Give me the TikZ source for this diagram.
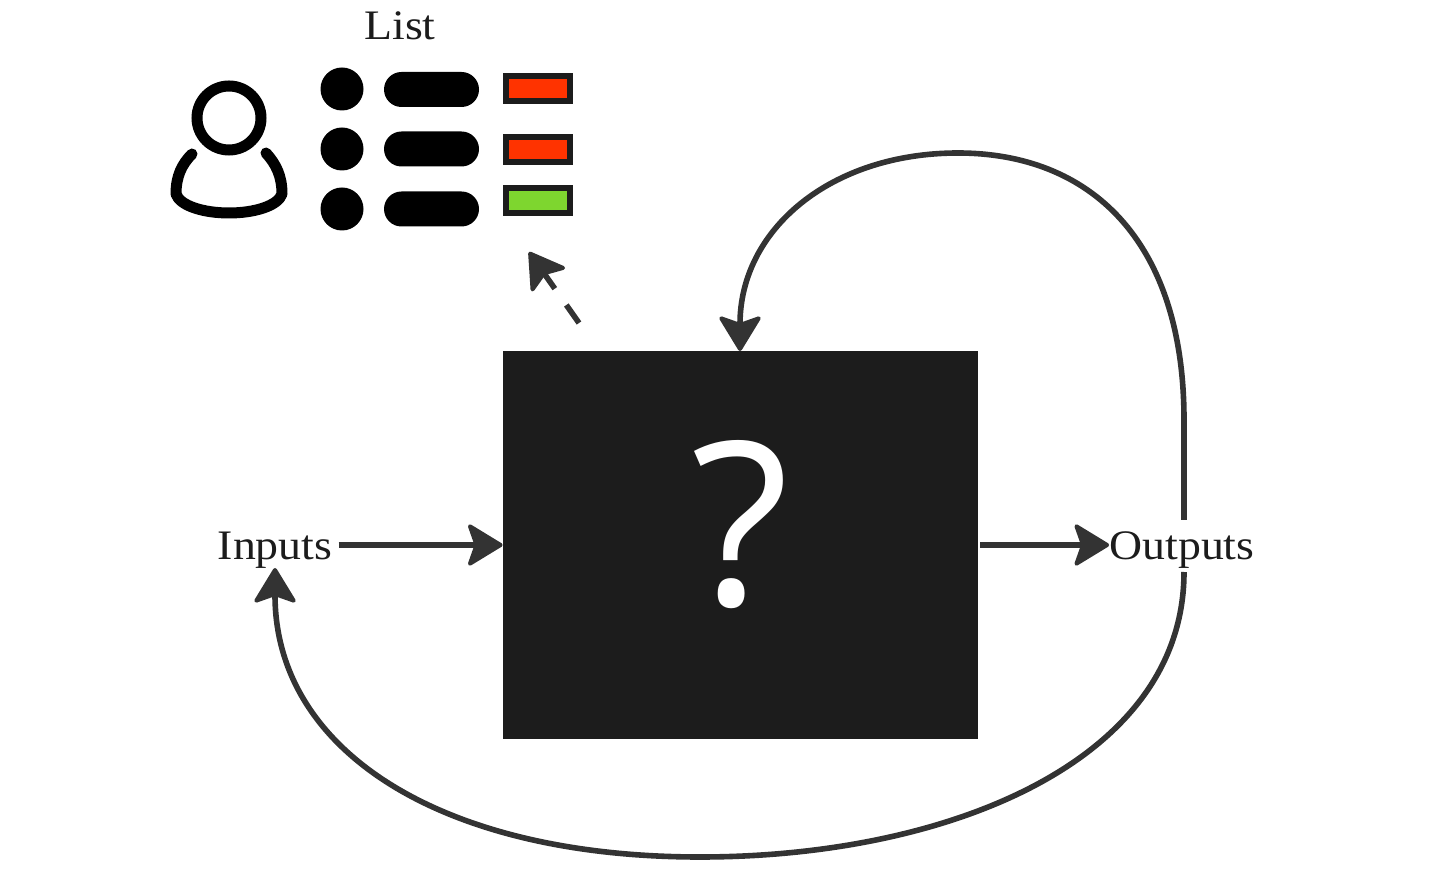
\documentclass[tikz,border=0pt]{standalone}
\usepackage{fontspec}
\usetikzlibrary{arrows.meta,shapes.misc}
\newfontfamily\markfont{Open Sans}
\newfontfamily\labelfont[FakeStretch=1.09]{Liberation Serif}
\definecolor{linegray}{HTML}{333333}
\definecolor{boxblack}{HTML}{1C1C1C}
\definecolor{flagred}{HTML}{FF3300}
\definecolor{flaggreen}{HTML}{7ED62F}
\begin{document}
\begin{tikzpicture}[x=.5pt,y=-.5pt,
		label/.style={font=\labelfont\fontsize{21}{24}\selectfont,text=boxblack,inner sep=0pt},
		link/.style={draw=linegray,line width=2.8pt,-{Stealth[length=19pt,width=23pt,inset=4pt,round,line width=2pt]}},
		bullet/.style={circle,fill=black,minimum size=21.5pt,inner sep=0pt},
		pill/.style={rounded rectangle,fill=black,minimum width=47.5pt,minimum height=17.5pt,inner sep=0pt},
		flag/.style={draw=boxblack,line width=3pt,minimum width=32pt,minimum height=12.5pt,inner sep=0pt}]
	\useasboundingbox (0,0) rectangle (1456,876);
	\node[fill=boxblack,minimum width=237.5pt,minimum height=194pt,inner sep=0pt] (box) at (740.5,545) {};
	\node[font=\markfont\fontsize{114}{120}\selectfont,text=white,inner sep=0pt] (mark) at (740,525) {?};
	\node[label] (inputs) at (275,550) {Inputs};
	\node[label] (outputs) at (1182,550) {Outputs};
	\node[label] (listtitle) at (400,26) {List};
	\node[bullet] (bs1) at (342,89) {};
	\node[bullet] (bs2) at (342,149) {};
	\node[bullet] (bs3) at (342,209) {};
	\node[pill] (pl1) at (431.5,89.5) {};
	\node[pill] (pl2) at (431.5,149) {};
	\node[pill] (pl3) at (431.5,209) {};
	\node[flag,fill=flagred] (fg1) at (538,88.5) {};
	\node[flag,fill=flagred] (fg2) at (538,150) {};
	\node[flag,fill=flaggreen] (fg3) at (538,201) {};
	\node[circle,draw=black,line width=5.5pt,minimum size=32pt,inner sep=0pt] (head) at (229,118) {};
	\draw[line width=5.5pt,line cap=round,line join=round] (192,154) .. controls (182,164) and (176,176) .. (176,194) .. controls (180,206) and (204,213) .. (229,213) .. controls (254,213) and (278,206) .. (282,194) .. controls (282,176) and (276,164) .. (266,153);
	\coordinate (dashstart) at (579,323);
	\coordinate (dashend) at (529,252);
	\coordinate (topin) at (740,351);
	\coordinate (outup) at (1184,520);
	\coordinate (outdown) at (1184,572);
	\coordinate (inbelow) at (275,568);
	\draw[link,shorten <=3pt] (inputs.east |- box.west) -- (box.west);
	\draw[link,shorten <=1pt] (box.east) -- (outputs.west |- box.east);
	\draw[link,dash pattern=on 11pt off 10pt] (dashstart) -- (dashend);
	\draw[link] (outup) -- (1184,420) .. controls (1184,240) and (1090,153) .. (958,153) .. controls (830,153) and (740,230) .. (topin);
	\draw[link] (outdown) .. controls (1184,760) and (950,857) .. (700,857) .. controls (440,857) and (275,750) .. (inbelow);
\end{tikzpicture}
\end{document}
